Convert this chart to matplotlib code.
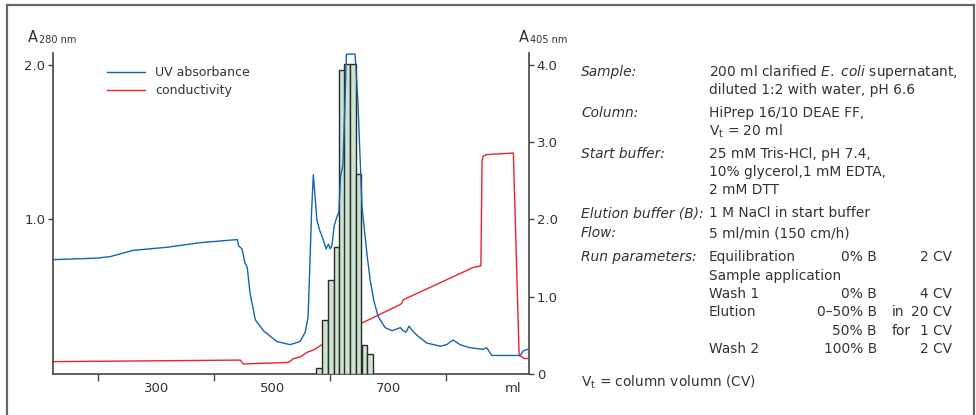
import matplotlib
matplotlib.use("Agg")
import matplotlib.pyplot as plt
from matplotlib.lines import Line2D

plt.rcParams['font.family'] = ['DejaVu Sans']
plt.rcParams['mathtext.fontset'] = 'custom'
plt.rcParams['mathtext.rm'] = 'DejaVu Sans'
plt.rcParams['mathtext.it'] = 'DejaVu Sans:italic'

# UV absorbance (A280) trace
uv_ml = [122, 198, 221, 260, 318, 376, 440, 442, 448, 453, 457, 462, 471, 485, 508,
         531, 548, 557, 562, 565, 568, 571, 574, 577, 582, 588, 593, 597, 600, 603,
         607, 612, 615, 618, 622, 626, 628, 643, 645, 648, 655, 664, 669, 675, 683,
         695, 707, 714, 721, 726, 731, 736, 742, 750, 767, 790, 801, 812, 824, 841,
         864, 870, 879, 905, 928, 933, 941]
uv_abs = [0.74, 0.75, 0.76, 0.80, 0.82, 0.85, 0.87, 0.83, 0.81, 0.72, 0.69, 0.52, 0.35, 0.28, 0.21,
          0.19, 0.21, 0.27, 0.37, 0.70, 1.05, 1.29, 1.15, 1.00, 0.93, 0.87, 0.81, 0.84, 0.81, 0.83,
          0.96, 1.02, 1.05, 1.28, 1.35, 1.80, 2.07, 2.07, 1.95, 1.75, 1.08, 0.76, 0.61, 0.48, 0.37,
          0.30, 0.28, 0.29, 0.30, 0.28, 0.27, 0.31, 0.28, 0.25, 0.20, 0.18, 0.19, 0.22, 0.19, 0.17,
          0.16, 0.17, 0.12, 0.12, 0.12, 0.15, 0.16]

# conductivity trace
cond_ml = [122, 445, 450, 528, 537, 548, 560, 571, 586, 655, 721, 724, 726, 847, 860,
           862, 864, 870, 916, 926, 935, 941]
cond = [0.08, 0.09, 0.065, 0.075, 0.10, 0.11, 0.14, 0.155, 0.19, 0.33, 0.45, 0.46, 0.48, 0.69, 0.70,
        1.38, 1.41, 1.42, 1.43, 0.12, 0.10, 0.10]

# fractions (A405)
frac_ml = [581, 591, 601, 611, 620, 629, 639, 649, 659, 669]
frac_a405 = [0.08, 0.70, 1.22, 1.64, 3.93, 4.01, 4.01, 2.59, 0.38, 0.26]
frac_width = 9.8

xticks_minor = [200, 400, 600, 800]
xtick_pos = [300, 500, 700, 915]
xtick_labels = ['300', '500', '700', 'ml']

W, H = 976, 415
def fx(px):
    return px / W
def fy(py):
    return 1 - py / H

tc = '#333333'
fig = plt.figure(figsize=(W / 100, H / 100), dpi=100)

# frame round the figure
for xs, ys in [([7, 7], [5, 420]), ([7, 974], [5, 5]), ([974, 974], [5, 420])]:
    fig.add_artist(Line2D([fx(x) for x in xs], [fy(y) for y in ys], color='#666666', lw=1.6))

pos = [fx(53), fy(374), (529 - 53) / W, (374 - 52.6) / H]
ax = fig.add_axes(pos)
ax2 = ax.twinx()
ax3 = fig.add_axes(pos, sharex=ax, sharey=ax)
ax3.axis('off')
ax3.patch.set_visible(False)

red, = ax.plot(cond_ml, cond, color='#e8242a', lw=1.0)
ax2.bar(frac_ml, frac_a405, width=frac_width, color='#cde4d0', edgecolor='#2a2a2a', lw=1.0)
blue, = ax3.plot(uv_ml, uv_abs, color='#1763b3', lw=1.0, clip_on=False)

ax.set_xlim(122, 943)
ax.set_ylim(0, 2.08)
ax2.set_ylim(0, 4.16)

for a in (ax, ax2):
    for s in a.spines.values():
        s.set_color('#444444')
        s.set_linewidth(1.2)
    a.spines['top'].set_visible(False)
ax2.spines['left'].set_visible(False)
ax2.spines['bottom'].set_visible(False)
ax.spines['right'].set_visible(False)

ax.set_yticks([1.0, 2.0])
ax.set_yticklabels(['1.0', '2.0'])
ax.tick_params(axis='y', length=3.5, width=1, colors='#444444', labelcolor=tc, labelsize=9.5, pad=2)
ax2.set_yticks([0, 1, 2, 3, 4])
ax2.set_yticklabels(['0', '1.0', '2.0', '3.0', '4.0'])
ax2.tick_params(axis='y', length=3.5, width=1, colors='#444444', labelcolor=tc, labelsize=9.5, pad=2)

ax.set_xticks(xtick_pos)
ax.set_xticklabels(xtick_labels)
ax.set_xticks(xticks_minor, minor=True)
ax.tick_params(axis='x', which='major', length=0, labelsize=9.5, labelcolor=tc, pad=6)
ax.tick_params(axis='x', which='minor', length=5, width=1, color='#444444')

ax.legend([blue, red], ['UV absorbance', 'conductivity'], loc='upper left',
          bbox_to_anchor=(fx(101), fy(60)), bbox_transform=fig.transFigure,
          frameon=False, fontsize=9, handlelength=3.0, handletextpad=0.8,
          labelspacing=0.4, borderpad=0, labelcolor=tc)

# axis titles
fig.text(fx(28), fy(37), 'A', fontsize=10.5, color=tc, va='center')
fig.text(fx(39), fy(40), '280 nm', fontsize=7, color=tc, va='center')
fig.text(fx(519), fy(37), 'A', fontsize=10.5, color=tc, va='center')
fig.text(fx(530), fy(40), '405 nm', fontsize=7, color=tc, va='center')

# method description
fs = 9.9
lx, vx = 581, 709
rows = [
    (72, 'Sample:', r'200 ml clarified $\it{E.\ coli}$ supernatant,'),
    (90, '', 'diluted 1:2 with water, pH 6.6'),
    (113, 'Column:', 'HiPrep 16/10 DEAE FF,'),
    (131, '', r'V$_\mathregular{t}$ = 20 ml'),
    (154, 'Start buffer:', '25 mM Tris-HCl, pH 7.4,'),
    (172, '', '10% glycerol,1 mM EDTA,'),
    (190, '', '2 mM DTT'),
    (213, 'Elution buffer (B):', '1 M NaCl in start buffer'),
    (233, 'Flow:', '5 ml/min (150 cm/h)'),
    (257, 'Run parameters:', 'Equilibration'),
    (276, '', 'Sample application'),
    (294, '', 'Wash 1'),
    (312, '', 'Elution'),
    (349, '', 'Wash 2'),
]
for y, lab, val in rows:
    if lab:
        fig.text(fx(lx), fy(y), lab, fontsize=fs, color=tc, style='italic', va='center')
    fig.text(fx(vx), fy(y), val, fontsize=fs, color=tc, va='center')

run_rows = [
    (257, '0% B', '', '2 CV'),
    (294, '0% B', '', '4 CV'),
    (312, '0–50% B', 'in', '20 CV'),
    (331, '50% B', 'for', '1 CV'),
    (349, '100% B', '', '2 CV'),
]
for y, b, mid, cv in run_rows:
    fig.text(fx(877), fy(y), b, fontsize=fs, color=tc, va='center', ha='right')
    if mid:
        fig.text(fx(892), fy(y), mid, fontsize=fs, color=tc, va='center')
    fig.text(fx(952), fy(y), cv, fontsize=fs, color=tc, va='center', ha='right')

fig.text(fx(lx), fy(382), r'V$_\mathregular{t}$ = column volumn (CV)', fontsize=fs, color=tc, va='center')

fig.savefig('out.png', dpi=100)
